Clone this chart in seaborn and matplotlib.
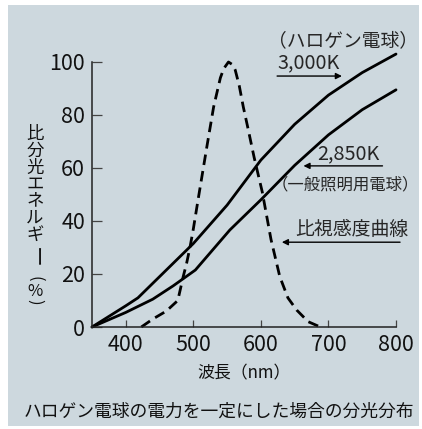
import matplotlib
matplotlib.use("Agg")
import matplotlib.pyplot as plt
from matplotlib.patches import Rectangle
import seaborn as sns
import pandas as pd

# ---- data ----
wl_3000 = [350, 375, 400, 418, 450, 500, 550, 600, 650, 700, 750, 800]
e_3000 = [0, 4, 8, 11, 19, 31.5, 46, 63, 76.5, 87.5, 96, 103]

wl_2850 = [350, 400, 440, 470, 503, 554, 600, 650, 700, 750, 800]
e_2850 = [0, 5.5, 10.5, 15.5, 21.5, 36.6, 48, 61, 72.5, 82, 89.5]

wl_vis = [423, 440, 460, 477, 485, 490, 495, 500, 507, 520, 530, 540, 545, 552,
          558, 562, 568, 574, 580, 590, 602, 615, 628, 640, 653, 670, 688]
v_vis = [0, 3, 6, 10, 19, 24, 30, 37, 48, 68, 83, 94, 97.5, 100,
         99, 97, 91, 83, 76, 64, 51, 33, 19, 11, 6.4, 2, 0]

x_ticks = [400, 500, 600, 700, 800]
y_ticks = [0, 20, 40, 60, 80, 100]

xlabel = "波長（nm）"
caption = "ハロゲン電球の電力を一定にした場合の分光分布"
ylabel_chars = list("比分光エネルギー(%)")

sns.set_style("ticks")
plt.rcParams['font.family'] = ['Noto Sans CJK JP', 'DejaVu Sans']

W, H = 422, 429
fig = plt.figure(figsize=(W / 100, H / 100), dpi=100)
fig.patch.set_facecolor("white")

def fx(px):
    return px / W

def fy(py):
    return 1 - py / H

# background panel
bg = Rectangle((fx(8), fy(426)), fx(419) - fx(8), fy(5) - fy(426),
               transform=fig.transFigure, facecolor="#cdd8de",
               edgecolor="none", zorder=-10)
fig.patches.append(bg)

ax = fig.add_axes([fx(92), fy(327), fx(396) - fx(92), fy(48.75) - fy(327)])
ax.set_facecolor("none")
ax.set_zorder(1)

df3000 = pd.DataFrame({"wl": wl_3000, "e": e_3000})
df2850 = pd.DataFrame({"wl": wl_2850, "e": e_2850})
dfvis = pd.DataFrame({"wl": wl_vis, "e": v_vis})

sns.lineplot(data=df3000, x="wl", y="e", ax=ax, color="black", lw=2.0, clip_on=False)
sns.lineplot(data=df2850, x="wl", y="e", ax=ax, color="black", lw=2.0, clip_on=False)
sns.lineplot(data=dfvis, x="wl", y="e", ax=ax, color="black", lw=2.0,
             linestyle=(0, (3.8, 2.2)), clip_on=False)

ax.set_xlim(350, 800)
ax.set_ylim(0, 105)
ax.spines["top"].set_visible(False)
ax.spines["right"].set_visible(False)
ax.spines["left"].set_bounds(0, 100)
for s in ("left", "bottom"):
    ax.spines[s].set_color("#222222")
    ax.spines[s].set_linewidth(1.1)

ax.set_xticks(x_ticks)
ax.set_xticklabels([str(v) for v in x_ticks])
ax.set_yticks(y_ticks)
ax.set_yticklabels([str(v) for v in y_ticks])
ax.tick_params(axis="x", direction="in", length=5, width=0.9, color="#444444",
               labelsize=15.5, pad=5, labelcolor="#111111")
ax.tick_params(axis="y", direction="in", length=7, width=0.9, color="#444444",
               labelsize=15.5, pad=5, labelcolor="#111111")
ax.set_xlabel("")
ax.set_ylabel("")

# x label & caption
fig.text(fx(244), fy(373), xlabel, ha="center", va="center", fontsize=12.2, color="#111111")
fig.text(fx(219), fy(412), caption, ha="center", va="center", fontsize=12.8, color="#111111")

# vertical y label
ycent = [134.5, 151, 167.5, 184, 200.5, 217.5, 234.5, 257, 279, 291, 302]
rot = {"ー": -90, "(": -90, ")": -90}
for ch, yc in zip(ylabel_chars, ycent):
    fig.text(fx(35), fy(yc), ch, ha="center", va="center",
             fontsize=12 if ch in "()%" else (15 if ch == "ー" else 12.5),
             rotation=rot.get(ch, 0), color="#111111")

# annotations
arrow = dict(arrowstyle="-|>", color="black", lw=1.0, mutation_scale=9,
             shrinkA=0, shrinkB=0)
ax.annotate("", xy=(720, 94.7), xytext=(624, 94.7), arrowprops=arrow, annotation_clip=False)
ax.text(624, 99.8, "3,000K", ha="left", va="center", fontsize=14.3, clip_on=False)
ax.text(611, 108.2, "（ハロゲン電球）", ha="left", va="center", fontsize=13.5, clip_on=False)

ax.annotate("", xy=(663, 60.8), xytext=(780, 60.8), arrowprops=arrow, annotation_clip=False)
ax.text(683, 65.2, "2,850K", ha="left", va="center", fontsize=14.3, clip_on=False)
ax.text(616, 53.6, "（一般照明用電球）", ha="left", va="center", fontsize=11.8, clip_on=False)

ax.annotate("", xy=(631, 32), xytext=(806, 32), arrowprops=arrow, annotation_clip=False)
ax.text(651, 36.8, "比視感度曲線", ha="left", va="center", fontsize=13.6, clip_on=False)

fig.savefig("out.png", dpi=100, facecolor="white")
